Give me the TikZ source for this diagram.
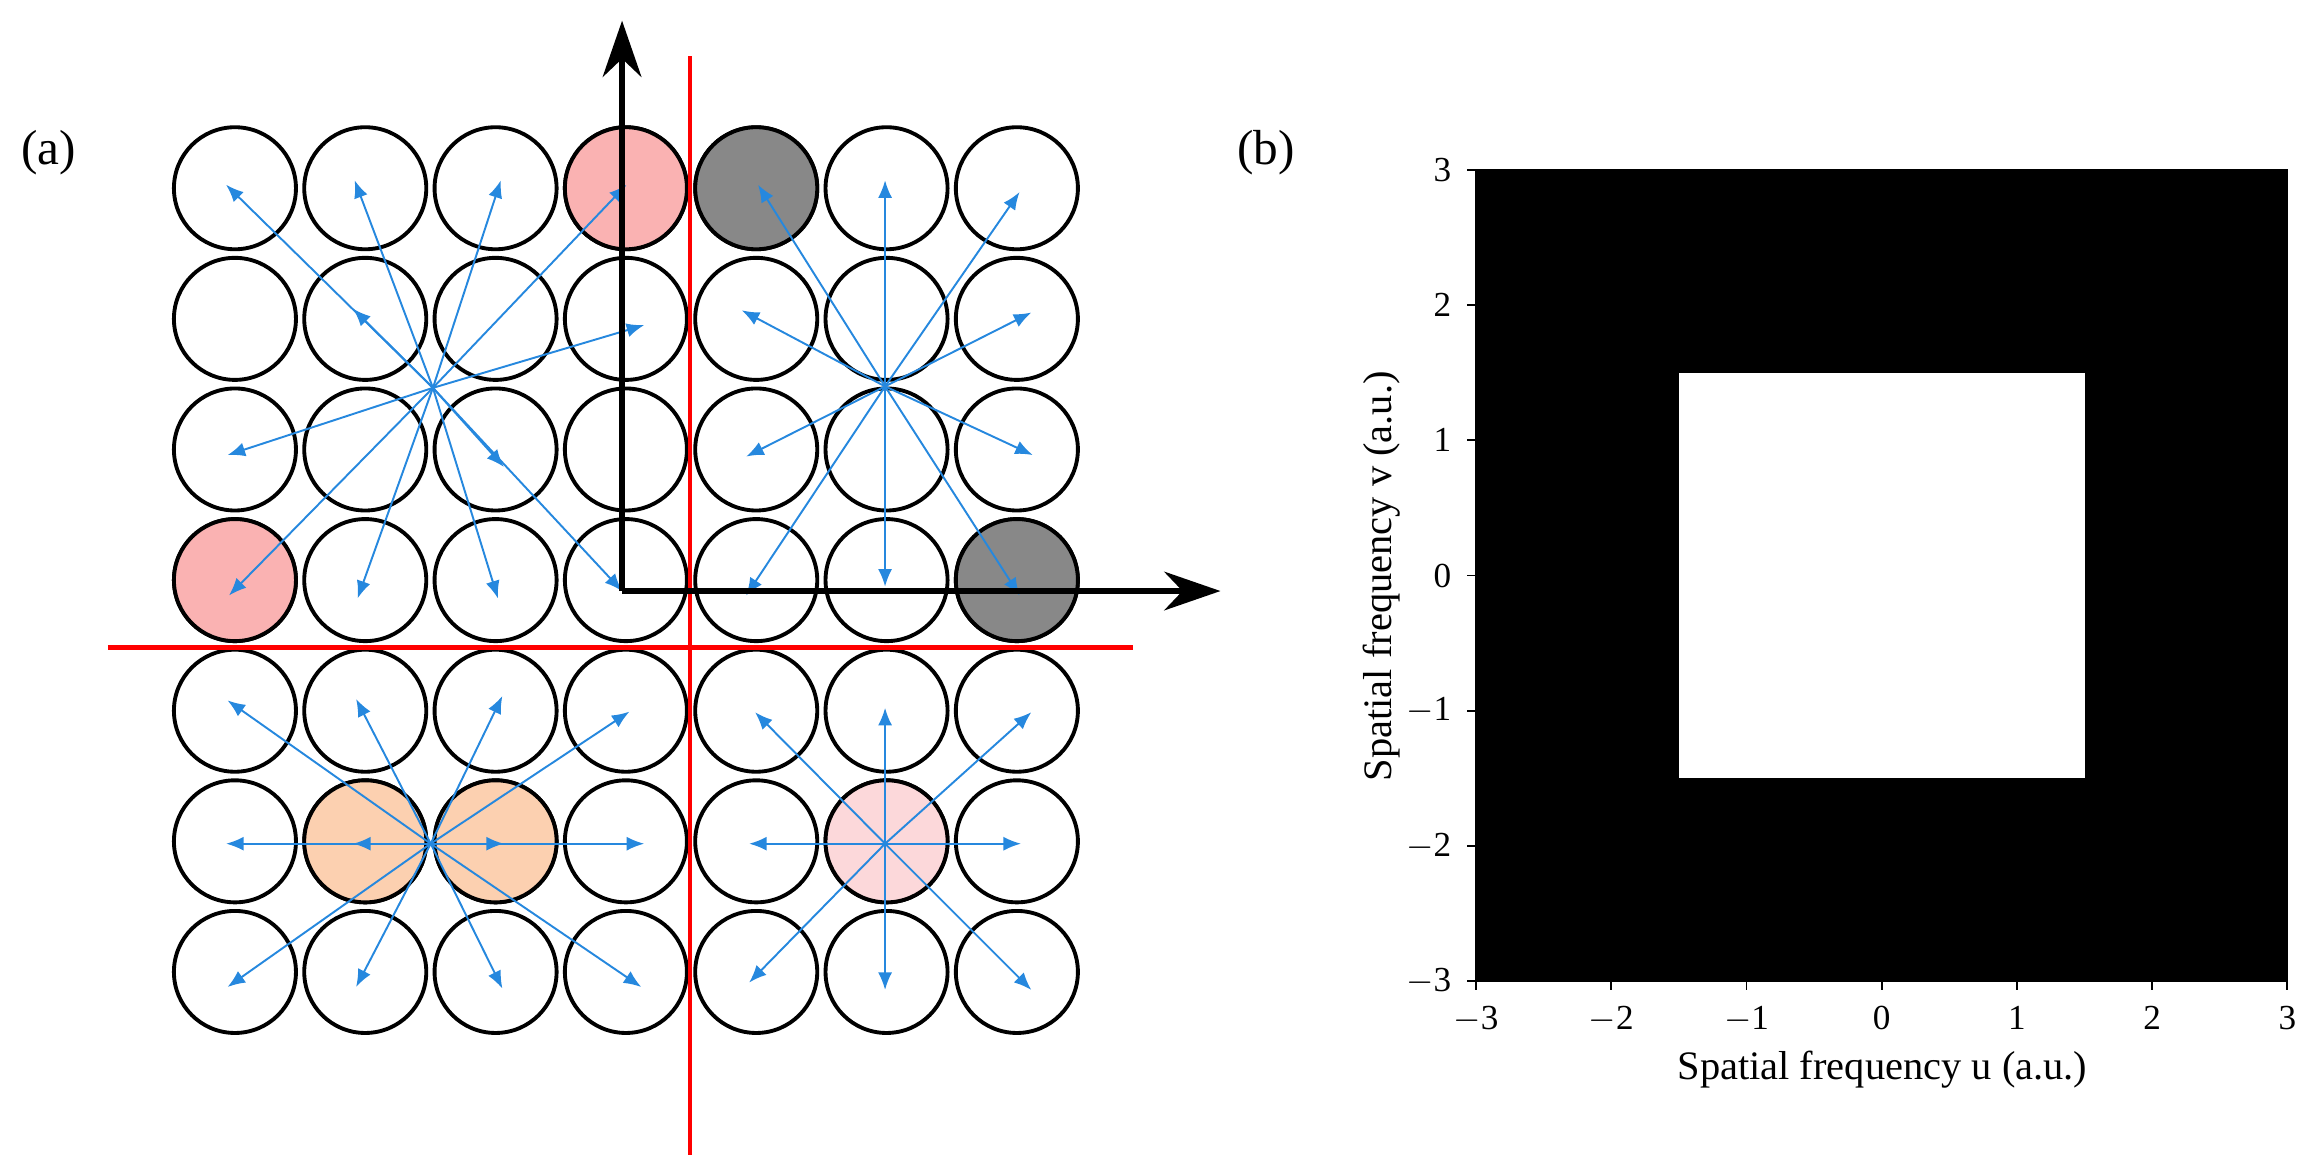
\documentclass[tikz,border=0pt]{standalone}
\usepackage{fontspec}
\setmainfont{Liberation Serif}
\usetikzlibrary{arrows.meta,positioning}
\definecolor{arrblue}{RGB}{38,136,222}
\definecolor{pinkA}{RGB}{250,178,178}
\definecolor{greyA}{RGB}{136,136,136}
\definecolor{peach}{RGB}{252,208,176}
\definecolor{pinkB}{RGB}{252,216,218}
\begin{document}
\begin{tikzpicture}[
    x=0.014776cm, y=-0.014776cm,
    cell/.style ={
        circle,
        draw=black,
        line width=1.1pt,
        minimum size=1.22cm,
        inner sep=0pt
    },
    ray/.style ={
        arrblue,
        line width=0.55pt,
        -{Latex[length=5pt,width=4pt]}
    },
    ax/.style ={
        line width=1.6pt,
        -{Stealth[length=16pt,width=11pt]}
    },
    cut/.style ={
        red,
        line width=1.4pt
    },
    tick/.style ={
        font=\fontsize{10}{12}\selectfont
    }
    ]
    \useasboundingbox (0,0) rectangle (1560,795.2);

    % grid of circles
    \foreach \i in {0,...,6}
        \foreach \j in {0,...,6}
            \node[cell] (c-\i-\j) at ({159+88.2*\i},{127.4+88.4*\j}) {};
    \foreach \i/\j/\col in {3/0/pinkA,0/3/pinkA,4/0/greyA,6/3/greyA,1/5/peach,2/5/peach,5/5/pinkB}
        \node[cell,fill=\col] at (c-\i-\j) {};

    % rays
    \coordinate (s1) at (293,262.5);
    \coordinate (s2) at (599,261.5);
    \coordinate (s3) at (291.5,571);
    \coordinate (s4) at (599,571);
    \foreach \x/\y in {153/125,240/122,339/122,424/125,239/209,436/220,154/308,341/316,155/403,242/405,337/405}{
        \coordinate (t) at (\x,\y);
        \draw[ray] (s1) -- (t);
    }
    \foreach \x/\y in {513/125,599/122,690/130,502/210,698/211.5,505/309,699/308,505/403,599/397,690/403}{
        \coordinate (t) at (\x,\y);
        \draw[ray] (s2) -- (t);
    }
    \foreach \x/\y in {154/474,241/473,340/471,426/481.6,153/571,239/571,341/571,436/571,154/668,241/668,340/669,434/668}{
        \coordinate (t) at (\x,\y);
        \draw[ray] (s3) -- (t);
    }
    \foreach \x/\y in {511/482,599/479,698/482,507/571,691/571,507/665,599/670,698/670}{
        \coordinate (t) at (\x,\y);
        \draw[ray] (s4) -- (t);
    }

    % red cut lines
    \coordinate (rt) at (467,38);
    \coordinate (rb) at (467,782);
    \coordinate (rl) at (73,438);
    \coordinate (rr) at (767,438);
    \draw[cut] (rt) -- (rb);
    \draw[cut] (rl) -- (rr);

    % axes
    \coordinate (o) at (421,400);
    \coordinate (ya) at (421,14);
    \coordinate (xa) at (826,400);
    \draw[ray] (s1) -- (o);
    \draw[ax] (o) -- (ya);
    \draw[ax] (o) -- (xa);

    \node[font=\fontsize{14}{16}\selectfont] (la) at (33,103) {(a)};
    \node[font=\fontsize{14}{16}\selectfont] (lb) at (857,103) {(b)};

    % panel (b)
    \fill[black] (999,115) rectangle (1548,664);
    \fill[white] ({1273.5-1.5*91.5},{389.5-1.5*91.5}) rectangle ({1273.5+1.5*91.5},{389.5+1.5*91.5});
    \draw[line width=0.5pt] (999,115) rectangle (1548,664);
    \foreach \v in {-3,...,3}{
        \draw[line width=0.5pt] ({1273.5+91.5*\v},664) -- ++(0,6)
            node[tick,below=1pt] {\ifnum\v<0 $-$\number-\v\else\v\fi};
        \draw[line width=0.5pt] (999,{389.5-91.5*\v}) -- ++(-6,0)
            node[tick,left=1pt] {\ifnum\v<0 $-$\number-\v\else\v\fi};
    }
    \node[font=\fontsize{11.5}{13}\selectfont] (xl) at (1274,724) {Spatial frequency u (a.u.)};
    \node[font=\fontsize{11.5}{13}\selectfont,rotate=90] (yl) at (935,390) {Spatial frequency v (a.u.)};
\end{tikzpicture}
\end{document}
